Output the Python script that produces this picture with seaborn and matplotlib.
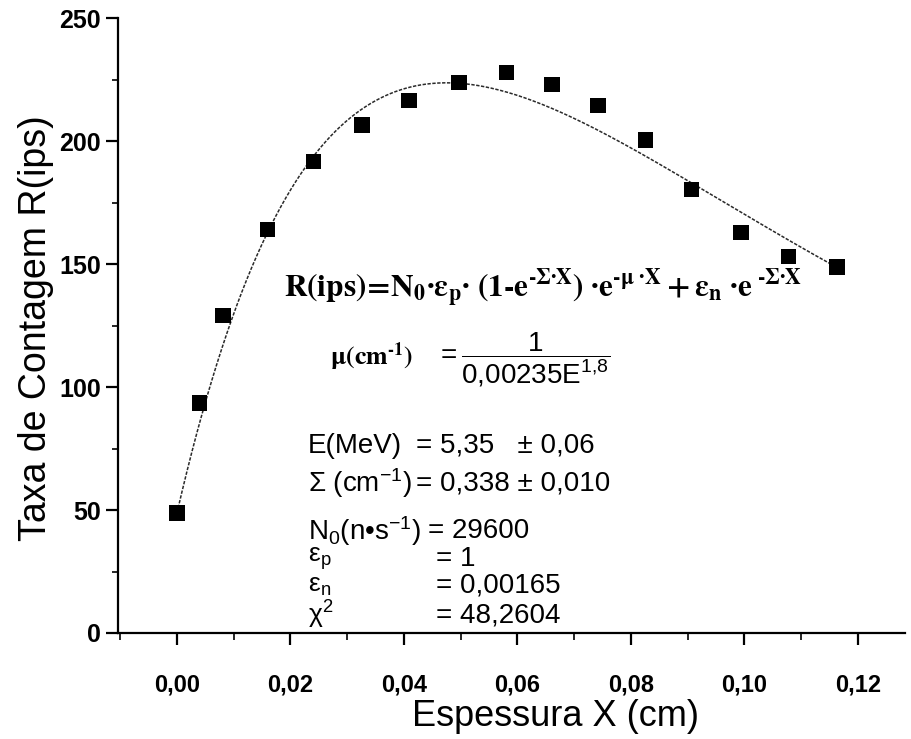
import numpy as np
import pandas as pd
import matplotlib
matplotlib.use("Agg")
import matplotlib.pyplot as plt
import seaborn as sns
from matplotlib.ticker import FixedLocator, MultipleLocator, FuncFormatter

# Measured counting rate versus absorber thickness
espessura_cm = [0.0000, 0.0039, 0.0081, 0.0160, 0.0241, 0.0326, 0.0409, 0.0497,
                0.0580, 0.0661, 0.0742, 0.0826, 0.0907, 0.0994, 0.1078, 0.1163]
taxa_ips = [48.8, 93.5, 129.0, 164.0, 191.8, 206.5, 216.5, 223.9,
            227.8, 223.0, 214.3, 200.4, 180.3, 162.7, 152.9, 148.8]

# Fit parameters quoted on the chart
E_MeV = 5.35
sigma_cm = 0.338
N0 = 29600
eps_p = 1
eps_n = 0.00165
chi2 = 48.2604

x_ticks = [0.00, 0.02, 0.04, 0.06, 0.08, 0.10, 0.12]
y_ticks = [0, 50, 100, 150, 200, 250]

# Fitted model R(X) = N0 [eps_p (1 - e^{-Sigma X}) e^{-mu X} + eps_n e^{-Sigma X}]
mu_cm = 1.0 / (0.00235 * E_MeV ** 1.8)
x_fit = np.linspace(espessura_cm[0], espessura_cm[-1], 400)
r_fit = N0 * (eps_p * (1 - np.exp(-sigma_cm * x_fit)) * np.exp(-mu_cm * x_fit)
              + eps_n * np.exp(-sigma_cm * x_fit))

dados = pd.DataFrame({"X": espessura_cm, "R": taxa_ips})
ajuste = pd.DataFrame({"X": x_fit, "R": r_fit})

sns.set_theme(style="ticks")
plt.rcParams["font.family"] = ["Liberation Sans", "DejaVu Sans"]
plt.rcParams["mathtext.fontset"] = "custom"
plt.rcParams["mathtext.rm"] = "Liberation Sans"
plt.rcParams["mathtext.it"] = "Liberation Sans:italic"
plt.rcParams["mathtext.bf"] = "Liberation Sans:bold"

W, H = 911, 739
fig = plt.figure(figsize=(W / 100, H / 100), dpi=100)
fig.patch.set_facecolor("white")
ax = fig.add_axes([118 / W, 1 - 633 / H, (905 - 118) / W, (633 - 18) / H])
ax.set_facecolor("white")

sns.lineplot(data=ajuste, x="X", y="R", ax=ax, color="#2a2a2a", lw=1.1,
             linestyle=(0, (2.2, 1.0)), sort=False, zorder=2)
sns.scatterplot(data=dados, x="X", y="R", ax=ax, marker="s", s=120,
                color="black", edgecolor="none", zorder=3)

ax.set_xlim(-0.0104, 0.1283)
ax.set_ylim(0, 250)
ax.xaxis.set_major_locator(FixedLocator(x_ticks))
ax.xaxis.set_minor_locator(MultipleLocator(0.01))
ax.yaxis.set_major_locator(FixedLocator(y_ticks))
ax.yaxis.set_minor_locator(MultipleLocator(25))
ax.xaxis.set_major_formatter(FuncFormatter(lambda v, p: f"{v:.2f}".replace(".", ",")))
ax.yaxis.set_major_formatter(FuncFormatter(lambda v, p: f"{v:.0f}"))

for s in ("top", "right"):
    ax.spines[s].set_visible(False)
for s in ("left", "bottom"):
    ax.spines[s].set_linewidth(1.6)
    ax.spines[s].set_color("black")

ax.tick_params(axis="x", which="major", direction="out", length=8.5, width=1.6,
               pad=21, labelsize=17, colors="black")
ax.tick_params(axis="x", which="minor", direction="out", length=5, width=1.4)
ax.tick_params(axis="y", which="major", direction="out", length=8.5, width=1.6,
               pad=4, labelsize=18, colors="black")
ax.tick_params(axis="y", which="minor", direction="out", length=4.5, width=1.4)
for lab in ax.get_xticklabels() + ax.get_yticklabels():
    lab.set_fontweight("bold")

ax.set_xlabel("")
ax.set_ylabel("")
fig.text(556 / W, 1 - 717 / H, "Espessura X (cm)", ha="center", va="center",
         fontsize=26, color="black")
fig.text(36 / W, 1 - 328 / H, "Taxa de Contagem R(ips)", ha="center", va="center",
         rotation=90, fontsize=27, color="black")


def px(x, y):
    return x / W, 1 - y / H


# Model expression
fig.text(*px(284, 288),
         r"$\mathbf{R(ips)\!=\!N_0·ε_p·\ (1‐e^{‐Σ·X})\ ·e^{‐μ\ ·X}+ε_n\ ·e^{\ ‐Σ·X}}$",
         ha="left", va="center", fontsize=22.5, math_fontfamily="stix", color="black")

# Parameter block
fig.text(*px(330, 357), r"$\mathbf{μ(cm^{‐1})}$", ha="left", va="center",
         fontsize=18.5, math_fontfamily="stix", color="black")
fig.text(*px(436, 360), r"$=\dfrac{1}{0{,}00235\mathrm{E}^{1{,}8}}$", ha="left",
         va="center", fontsize=20, color="black")

col_lab = 308
linhas = [
    (446, 416, "E(MeV)", f"= {E_MeV:.2f}".replace(".", ",") + "   ± 0,06"),
    (483, 416, r"$\mathrm{Σ\ (cm^{-1})}$", f"= {sigma_cm:.3f}".replace(".", ",") + " ± 0,010"),
    (531, 428, r"$\mathrm{N_0(n•s^{-1})}$", f"= {N0}"),
    (559, 436, r"$\mathrm{ε_p}$", f"= {eps_p}"),
    (586, 436, r"$\mathrm{ε_n}$", f"= {eps_n:.5f}".replace(".", ",")),
    (615, 436, r"$\mathrm{χ^{2}}$", f"= {chi2:.4f}".replace(".", ",")),
]
for y, col_val, lab, val in linhas:
    fs_lab = 20 if y < 550 else 19
    fig.text(*px(col_lab, y), lab, ha="left", va="center", fontsize=fs_lab, color="black")
    fig.text(*px(col_val, y), val, ha="left", va="center", fontsize=20, color="black")

fig.savefig("out.png", dpi=100, facecolor="white")
